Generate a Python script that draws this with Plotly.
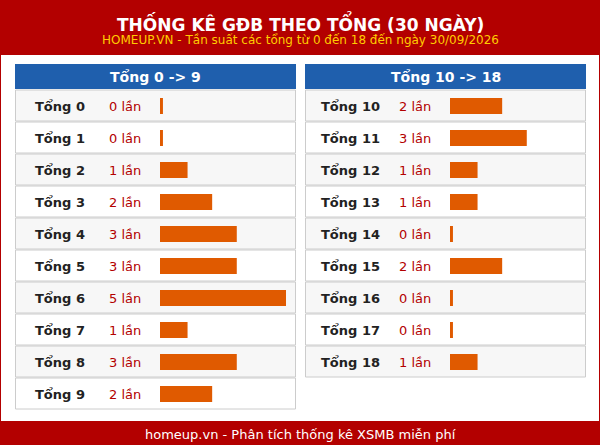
import plotly.graph_objects as go

W, H = 600, 445
left_labels = [f"Tổng {i}" for i in range(10)]
left_counts = [0, 0, 1, 2, 3, 3, 5, 1, 3, 2]
right_labels = [f"Tổng {i}" for i in range(10, 19)]
right_counts = [2, 3, 1, 1, 0, 2, 0, 0, 1]

title = "THỐNG KÊ GĐB THEO TỔNG (30 NGÀY)"
subtitle = "HOMEUP.VN - Tần suất các tổng từ 0 đến 18 đến ngày 30/09/2026"
footer = "homeup.vn - Phân tích thống kê XSMB miễn phí"

RED = "#b30000"
BLUE = "#1f5fad"
BAR = "#e05a00"
FONT = "DejaVu Sans"
ROW_H = 32
TOP = 90
ZERO = 0.12  # small stub so zero counts still show

fig = go.Figure()
shapes = []
annotations = []

def py(p):
    return 1 - p / H

def note(x, y, text, size, color, yref="paper"):
    return dict(x=x, y=y, xref="paper", yref=yref, text=text, showarrow=False,
                xanchor="center", yanchor="middle",
                font=dict(family=FONT, size=size, color=color))

# page frame, header, footer
shapes.append(dict(type="rect", xref="x", yref="y", x0=0, x1=W, y0=0, y1=H,
                   fillcolor="white", line=dict(color=RED, width=2), layer="below"))
shapes.append(dict(type="rect", xref="x", yref="y", x0=0, x1=W, y0=0, y1=55,
                   fillcolor=RED, line=dict(width=0), layer="below"))
shapes.append(dict(type="rect", xref="x", yref="y", x0=0, x1=W, y0=421, y1=H,
                   fillcolor=RED, line=dict(width=0), layer="below"))
annotations += [
    note(0.5, py(23), f"<b>{title}</b>", 17, "white"),
    note(0.5, py(40), subtitle, 12, "#ffcc00"),
    note(0.5, py(434), footer, 13, "white"),
]

panels = [
    dict(x0=15, x1=296, bar0=160, bar1=286, labels=left_labels, counts=left_counts,
         head="Tổng 0 -> 9", xa="x2", ya="y2"),
    dict(x0=305, x1=586, bar0=450, bar1=576, labels=right_labels, counts=right_counts,
         head="Tổng 10 -> 18", xa="x3", ya="y3"),
]

layout_axes = {}
for p in panels:
    n = len(p["labels"])
    shapes.append(dict(type="rect", xref="x", yref="y", x0=p["x0"], x1=p["x1"], y0=64, y1=89,
                       fillcolor=BLUE, line=dict(width=0), layer="below"))
    annotations.append(note((p["x0"] + p["x1"]) / 2 / W, py(77), f"<b>{p['head']}</b>", 14, "white"))
    for i in range(n):
        shapes.append(dict(type="rect", xref="x", yref="y", x0=p["x0"] + 0.5, x1=p["x1"] - 0.5,
                           y0=TOP + i * ROW_H, y1=TOP + i * ROW_H + ROW_H - 1,
                           fillcolor="#f7f7f7" if i % 2 == 0 else "white",
                           line=dict(color="#cccccc", width=1), layer="below"))
    fig.add_trace(go.Bar(
        y=p["labels"], x=[c + ZERO for c in p["counts"]], base=-ZERO, orientation="h",
        marker=dict(color=BAR, line=dict(width=0)), width=0.5,
        xaxis=p["xa"], yaxis=p["ya"], hoverinfo="skip", showlegend=False))
    for lab, c in zip(p["labels"], p["counts"]):
        annotations.append(note((p["x0"] + 45) / W, lab, f"<b>{lab}</b>", 13, "#222222", p["ya"]))
        annotations.append(note((p["x0"] + 110) / W, lab, f"{c} lần", 13, RED, p["ya"]))
    k = p["xa"][1:]
    layout_axes[f"xaxis{k}"] = dict(domain=[p["bar0"] / W, p["bar1"] / W], range=[-ZERO, 5],
                                    visible=False, fixedrange=True)
    layout_axes[f"yaxis{k}"] = dict(domain=[py(TOP + n * ROW_H), py(TOP)],
                                    categoryorder="array", categoryarray=p["labels"][::-1],
                                    range=[-0.5, n - 0.5], visible=False, fixedrange=True)

fig.add_trace(go.Scatter(x=[0], y=[0], mode="markers", marker=dict(opacity=0),
                         hoverinfo="skip", showlegend=False))

fig.update_layout(
    width=W, height=H, margin=dict(l=0, r=0, t=0, b=0),
    paper_bgcolor="white", plot_bgcolor="rgba(0,0,0,0)",
    xaxis=dict(range=[0, W], visible=False, domain=[0, 1]),
    yaxis=dict(range=[H, 0], visible=False, domain=[0, 1]),
    shapes=shapes, annotations=annotations, **layout_axes,
)

fig.write_html("out.html", config={"displayModeBar": False},
               post_script="document.body.style.margin='0';")
